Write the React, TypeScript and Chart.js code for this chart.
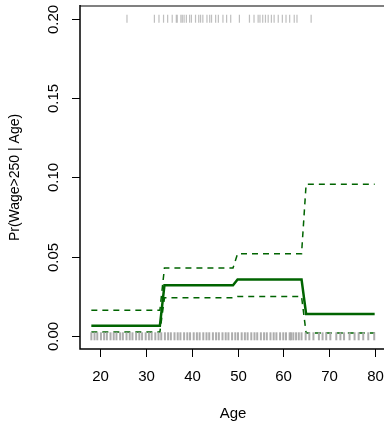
import React, { useEffect, useRef } from "react";
import { Chart, registerables } from "chart.js";

Chart.register(...registerables);

// Fitted step function (age cut into 4 bins), evaluated on integer ages
const fitAges = [18, 33, 34, 49, 50, 64, 65, 80];
const fitValues = [0.0066, 0.0066, 0.0322, 0.0322, 0.0358, 0.0358, 0.0141, 0.0141];
const upperValues = [0.0164, 0.0164, 0.043, 0.043, 0.052, 0.052, 0.0958, 0.0958];
const lowerValues = [0.0027, 0.0027, 0.0242, 0.0242, 0.0251, 0.0251, 0.002, 0.002];

// Rug of jittered ages: wage > 250 (drawn at 0.2) and wage <= 250 (drawn at 0)
const highWageAges = [
  25.8, 31.8, 32.8, 33.8, 34.7, 35.7, 36.6, 36.8, 37.6, 37.9, 38.3, 38.8, 39.5, 39.9,
  40.8, 41.5, 41.9, 42.4, 43.3, 43.9, 44.3, 45.2, 45.8, 46.8, 47.6, 48.5, 50.4, 52.6,
  53.6, 54.5, 54.9, 55.5, 56.1, 56.7, 57.4, 58.0, 58.9, 59.8, 60.6, 61.4, 62.4, 63.0, 66.1,
];
const lowWageAges = [
  18.0, 18.7, 19.3, 20.1, 20.8, 21.4, 22.2, 22.9, 23.5, 24.3, 24.9, 25.7, 26.4, 27.0,
  27.8, 28.5, 29.1, 29.9, 30.6, 31.2, 32.0, 32.7, 33.3, 34.1, 34.8, 35.4, 36.2, 36.9,
  37.5, 38.3, 39.0, 39.6, 40.4, 41.1, 41.7, 42.5, 43.2, 43.8, 44.6, 45.3, 45.9, 46.7,
  47.4, 48.0, 48.8, 49.5, 50.1, 50.9, 51.6, 52.2, 53.0, 53.7, 54.3, 55.1, 55.8, 56.4,
  57.2, 57.9, 58.5, 59.3, 60.0, 60.6, 61.4, 61.7, 62.2, 62.8, 63.4, 64.0, 64.9, 65.7,
  66.6, 67.8, 68.6, 69.4, 70.3, 71.6, 72.5, 73.3, 74.5, 75.6, 76.5, 77.5, 78.6, 79.9,
];

const xTicks = [20, 30, 40, 50, 60, 70, 80];
const yTicks = [0.0, 0.05, 0.1, 0.15, 0.2];
const yTickLabels = ["0.00", "0.05", "0.10", "0.15", "0.20"];
const xTitle = "Age";
const yTitle = "Pr(Wage>250 | Age)";

const GREEN = "#006400";
const FAMILY = '"Liberation Sans", Arial, Helvetica, sans-serif';
const FONT = "15px " + FAMILY;
const YTITLE_FONT = "14px " + FAMILY;

const CANVAS_W = 392;
const CANVAS_H = 423;

export default function App() {
  const ref = useRef<HTMLCanvasElement | null>(null);

  useEffect(() => {
    if (!ref.current) return;

    const axesPlugin = {
      id: "rAxes",
      afterDraw(chart: any) {
        const { ctx, chartArea, scales } = chart;
        const xs = scales.x;
        const ys = scales.y;
        ctx.save();
        // top box edge (grey)
        ctx.strokeStyle = "#808080";
        ctx.lineWidth = 2;
        ctx.beginPath();
        ctx.moveTo(chartArea.left, chartArea.top);
        ctx.lineTo(chartArea.right + 10, chartArea.top);
        ctx.stroke();
        // left and bottom
        ctx.strokeStyle = "#000";
        ctx.lineWidth = 1.5;
        ctx.beginPath();
        ctx.moveTo(chartArea.left, chartArea.top - 1);
        ctx.lineTo(chartArea.left, chartArea.bottom);
        ctx.lineTo(chartArea.right + 10, chartArea.bottom);
        ctx.stroke();
        // x ticks
        ctx.lineWidth = 1;
        ctx.fillStyle = "#000";
        ctx.font = FONT;
        ctx.textAlign = "center";
        ctx.textBaseline = "middle";
        xTicks.forEach((t) => {
          const px = Math.round(xs.getPixelForValue(t)) + 0.5;
          ctx.beginPath();
          ctx.moveTo(px, chartArea.bottom);
          ctx.lineTo(px, chartArea.bottom + 8);
          ctx.stroke();
          ctx.fillText(String(t), px, chartArea.bottom + 28);
        });
        // y ticks
        yTicks.forEach((t, i) => {
          const py = Math.round(ys.getPixelForValue(t)) + 0.5;
          ctx.beginPath();
          ctx.moveTo(chartArea.left - 8, py);
          ctx.lineTo(chartArea.left, py);
          ctx.stroke();
          ctx.save();
          ctx.translate(chartArea.left - 26, py);
          ctx.rotate(-Math.PI / 2);
          ctx.fillText(yTickLabels[i], 0, 0);
          ctx.restore();
        });
        // titles
        ctx.fillText(xTitle, (chartArea.left + chartArea.right) / 2, chartArea.bottom + 65);
        ctx.save();
        ctx.font = YTITLE_FONT;
        ctx.translate(15, (chartArea.top + chartArea.bottom) / 2);
        ctx.rotate(-Math.PI / 2);
        ctx.fillText(yTitle, 0, 0);
        ctx.restore();
        ctx.restore();
      },
    };

    const pts = (ys: number[]) => fitAges.map((a, i) => ({ x: a, y: ys[i] }));
    const rug = (ages: number[], v: number) => ages.map((a) => ({ x: a, y: v }));

    const chart = new Chart(ref.current, {
      type: "scatter",
      data: {
        datasets: [
          {
            data: rug(lowWageAges, 0),
            pointStyle: "line",
            rotation: 90,
            radius: 4,
            borderColor: "rgba(169,169,169,0.95)",
            borderWidth: 2,
            showLine: false,
          } as any,
          {
            data: rug(highWageAges, 0.2),
            pointStyle: "line",
            rotation: 90,
            radius: 4,
            borderColor: "rgba(169,169,169,0.75)",
            borderWidth: 1.2,
            showLine: false,
          } as any,
          {
            data: pts(upperValues),
            showLine: true,
            borderColor: GREEN,
            borderWidth: 1.5,
            borderDash: [6, 5],
            pointRadius: 0,
            tension: 0,
          },
          {
            data: pts(lowerValues),
            showLine: true,
            borderColor: GREEN,
            borderWidth: 1.5,
            borderDash: [6, 5],
            pointRadius: 0,
            tension: 0,
          },
          {
            data: pts(fitValues),
            showLine: true,
            borderColor: GREEN,
            borderWidth: 2.5,
            pointRadius: 0,
            tension: 0,
          },
        ],
      },
      options: {
        responsive: false,
        animation: false,
        devicePixelRatio: 1,
        layout: { padding: { left: 80, top: 6, right: CANVAS_W - 386.5, bottom: 74 } },
        plugins: { legend: { display: false }, tooltip: { enabled: false } },
        scales: {
          x: { type: "linear", min: 15.52, max: 82.48, display: false },
          y: { type: "linear", min: -0.008, max: 0.208, display: false },
        },
      },
      plugins: [axesPlugin],
    });
    return () => chart.destroy();
  }, []);

  return (
    <div
      style={{
        position: "fixed",
        left: 0,
        top: 0,
        width: 384,
        height: 423,
        overflow: "hidden",
        background: "#fff",
      }}
    >
      <canvas
        ref={ref}
        width={CANVAS_W}
        height={CANVAS_H}
        style={{ width: CANVAS_W, height: CANVAS_H, display: "block" }}
      />
    </div>
  );
}
